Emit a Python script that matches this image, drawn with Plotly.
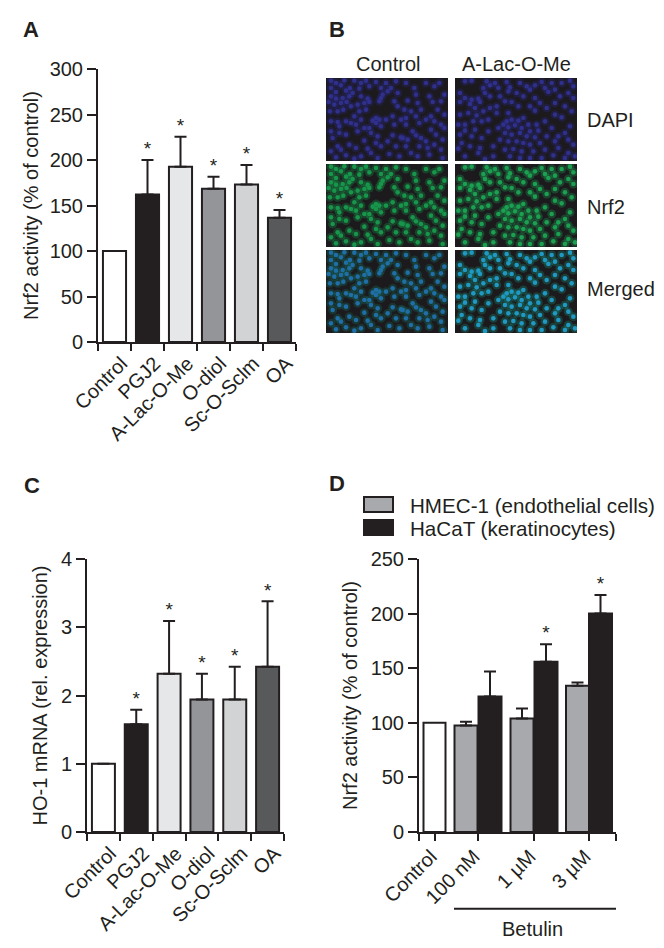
import plotly.graph_objects as go

# ---- data ----
cats = ["Control", "PGJ2", "A-Lac-O-Me", "O-diol", "Sc-O-Sclm", "OA"]
a_values = [100, 162, 192.5, 168.5, 173, 136.5]
a_sd = [0, 38, 33, 13, 21.5, 8.5]
a_star = [False, True, True, True, True, True]
c_values = [1.0, 1.58, 2.32, 1.94, 1.94, 2.42]
c_sd = [0, 0.21, 0.77, 0.38, 0.48, 0.96]
bar_colors = ["#ffffff", "#231f20", "#e6e7e8", "#939598", "#d1d3d4", "#58595b"]

d_doses = ["100 nM", "1 µM", "3 µM"]
d_control = [100]
d_hmec = [97.5, 104, 134]
d_hmec_sd = [3.5, 9, 3]
d_hacat = [124, 156, 200]
d_hacat_sd = [23, 16, 17]
d_star = [False, True, True]

nuclei_control = [
    (15, 8), (30, 15), (55, 7), (45, 22), (15, 30), (30, 42), (60, 38), (72, 30), (80, 45), (70, 55), (50, 60),
    (30, 62), (15, 55), (8, 72), (25, 80), (45, 75), (62, 72), (75, 85), (52, 95), (35, 100), (12, 100), (85, 8),
    (105, 15), (120, 8), (130, 25), (100, 32), (105, 55), (125, 62), (115, 75), (130, 72), (95, 80), (100, 100),
    (120, 95), (165, 60), (160, 70), (170, 50), (150, 12), (180, 15), (165, 30), (195, 30), (210, 10), (240, 15),
    (215, 45), (185, 40), (205, 70), (215, 85), (245, 68), (235, 95), (265, 30), (270, 50), (275, 75), (255, 100),
    (285, 95), (300, 15), (325, 25), (355, 50), (340, 15), (310, 55), (320, 72), (345, 70), (335, 95), (355, 110),
    (315, 115), (150, 120), (140, 128), (160, 125), (150, 135), (130, 150), (165, 145), (180, 125), (15, 130),
    (35, 132), (40, 145), (60, 130), (75, 135), (90, 140), (105, 125), (85, 115), (115, 150), (200, 115), (225, 125),
    (240, 120), (205, 140), (240, 140), (270, 115), (280, 135), (300, 125), (325, 130), (345, 140), (315, 155),
    (355, 150), (260, 160), (15, 160), (40, 165), (60, 170), (95, 160), (135, 165), (155, 175), (200, 172), (230, 180),
    (245, 185), (225, 178), (270, 172), (285, 180), (300, 190), (330, 170), (350, 185), (20, 180), (115, 188),
    (150, 195), (185, 190), (35, 205), (70, 200), (90, 210), (125, 212), (165, 205), (210, 205), (240, 205), (280, 205),
    (305, 210), (325, 200), (345, 215), (15, 220), (45, 215), (60, 232), (30, 238), (105, 235), (135, 225), (155, 240),
    (190, 228), (220, 235), (255, 225), (275, 235), (310, 230), (350, 240), (85, 242),
]
nuclei_treated = [
    (30, 10), (50, 8), (95, 10), (105, 22), (120, 15), (155, 12), (165, 28), (195, 15), (225, 35), (215, 25), (240, 22),
    (260, 12), (270, 30), (280, 42), (290, 15), (345, 8), (355, 25), (320, 15), (15, 45), (30, 60), (50, 65), (70, 62),
    (75, 72), (45, 78), (15, 72), (85, 30), (90, 45), (130, 30), (135, 55), (105, 55), (160, 40), (185, 45), (205, 55),
    (240, 60), (255, 75), (300, 35), (315, 55), (340, 45), (355, 60), (170, 72), (150, 70), (125, 85), (105, 90),
    (125, 105), (85, 100), (60, 90), (40, 105), (65, 112), (15, 110), (190, 85), (225, 85), (240, 98), (275, 90),
    (300, 75), (330, 85), (350, 100), (300, 110), (320, 118), (160, 105), (205, 120), (190, 128), (170, 125), (155, 130),
    (145, 140), (10, 140), (30, 140), (55, 130), (80, 130), (60, 155), (30, 158), (100, 125), (130, 150), (160, 148),
    (180, 142), (200, 150), (220, 140), (245, 140), (225, 160), (250, 158), (150, 165), (170, 170), (195, 165), (215, 175),
    (270, 130), (290, 150), (345, 145), (330, 165), (310, 175), (275, 175), (240, 178), (15, 170), (50, 175), (80, 180),
    (100, 160), (135, 185), (160, 190), (185, 190), (205, 195), (225, 200), (255, 195), (300, 190), (340, 185), (355, 200),
    (20, 195), (10, 212), (45, 205), (75, 210), (115, 205), (150, 215), (175, 213), (200, 220), (235, 220), (270, 215),
    (310, 210), (340, 225), (30, 235), (70, 225), (115, 235), (165, 235), (195, 240), (225, 240), (260, 240), (295, 232),
    (330, 240), (360, 235), (90, 243),
]

# ---- layout helpers (pixel geometry of the page) ----
W, H = 664, 948
FONT = "Liberation Sans, Arial, sans-serif"
INK = "#231f20"
TICK = 20


def dx(a, b):
    return [a / W, b / W]


def dy(top, bottom):
    return [1 - bottom / H, 1 - top / H]


def ann(text, x, y, size=TICK, xanchor="center"):
    return dict(text=text, x=x / W, y=1 - y / H, xref="paper", yref="paper", xanchor=xanchor, yanchor="middle",
                showarrow=False, font=dict(size=size, color=INK, family=FONT))


fig = go.Figure()


def y_axis(title, top, bottom, rng, dtick, standoff, anchor):
    return dict(domain=dy(top, bottom), range=rng, dtick=dtick, anchor=anchor, automargin=False,
                showgrid=False, zeroline=False, showline=True, linecolor=INK, linewidth=2,
                ticks="outside", ticklen=9, tickwidth=2, tickcolor=INK,
                tickfont=dict(size=TICK, color=INK, family=FONT),
                title=dict(text=title, standoff=standoff, font=dict(size=TICK, color=INK, family=FONT)))


def x_common(shift, standoff=0):
    return dict(showgrid=False, zeroline=False, showline=True, linecolor=INK, linewidth=2, automargin=False,
                ticks="outside", ticklen=7, tickwidth=2, tickcolor=INK, tickangle=-45,
                tickfont=dict(size=TICK, color=INK, family=FONT), ticklabelshift=shift, ticklabelstandoff=standoff)


def err(sd):
    return dict(type="data", array=sd, arrayminus=[0] * len(sd), symmetric=False,
                color=INK, thickness=2, width=6)


def stars(fig, x, tops, xa, ya):
    fig.add_trace(go.Scatter(x=x, y=tops, mode="text", text=["*"] * len(x),
                             textposition="top center",
                             textfont=dict(size=19, color=INK, family=FONT),
                             xaxis=xa, yaxis=ya, showlegend=False, hoverinfo="skip"))


# panel A
fig.add_trace(go.Bar(x=cats, y=a_values, marker=dict(color=bar_colors, line=dict(color=INK, width=2)),
                     error_y=err(a_sd), xaxis="x", yaxis="y", showlegend=False, hoverinfo="skip"))
stars(fig, [c for c, s in zip(cats, a_star) if s],
      [v + e for v, e, s in zip(a_values, a_sd, a_star) if s], "x", "y")

# panel C
fig.add_trace(go.Bar(x=cats, y=c_values, marker=dict(color=bar_colors, line=dict(color=INK, width=2)),
                     error_y=err(c_sd), xaxis="x2", yaxis="y2", showlegend=False, hoverinfo="skip"))
stars(fig, [c for c, s in zip(cats, a_star) if s],
      [v + e for v, e, s in zip(c_values, c_sd, a_star) if s], "x2", "y2")

# panel D  (x unit = one pixel from the y axis)
D_CONTROL_X = [15.5]
D_HMEC_X = [47, 103, 158.5]
D_HACAT_X = [71, 127, 181.5]
D_TICKS = [0, 16, 59, 115, 170, 197]
fig.add_trace(go.Bar(x=D_CONTROL_X, y=d_control, width=22,
                     marker=dict(color="#ffffff", line=dict(color=INK, width=2)),
                     xaxis="x3", yaxis="y3", showlegend=False, hoverinfo="skip"))
fig.add_trace(go.Bar(x=D_HMEC_X, y=d_hmec, width=23,
                     marker=dict(color="#a7a9ac", line=dict(color=INK, width=2)),
                     error_y=err(d_hmec_sd), xaxis="x3", yaxis="y3", name="HMEC-1 (endothelial cells)",
                     showlegend=False, hoverinfo="skip"))
fig.add_trace(go.Bar(x=D_HACAT_X, y=d_hacat, width=23,
                     marker=dict(color=INK, line=dict(color=INK, width=2)),
                     error_y=err(d_hacat_sd), xaxis="x3", yaxis="y3", name="HaCaT (keratinocytes)",
                     showlegend=False, hoverinfo="skip"))
stars(fig, [x for x, s in zip(D_HACAT_X, d_star) if s],
      [v + e for v, e, s in zip(d_hacat, d_hacat_sd, d_star) if s], "x3", "y3")

# panel B micrographs
BG = "#1c1a1c"
columns = [(326, 448, nuclei_control), (455, 577, nuclei_treated)]
rows_px = [(78, 161), (164, 247), (250, 333)]
core_colors = [["#2f2f8c", "#17954a", "#1f6ea6"], ["#2f2f8c", "#1b9f50", "#2098c4"]]
glow_colors = [["#2c2c90", "#14a050", "#147a6a"], ["#2c2c90", "#18b058", "#14a08a"]]
axis_id = 4
img_axes = {}
for c, (x0, x1, points) in enumerate(columns):
    xs = [p[0] for p in points]
    ys = [p[1] for p in points]
    for r, (top, bottom) in enumerate(rows_px):
        for size, color, opacity in [(9, glow_colors[c][r], 0.28), (4.6, core_colors[c][r], 1)]:
            fig.add_trace(go.Scatter(x=xs, y=ys, mode="markers",
                                     marker=dict(size=size, color=color, opacity=opacity, line=dict(width=0)),
                                     xaxis=f"x{axis_id}", yaxis=f"y{axis_id}", showlegend=False, hoverinfo="skip"))
        img_axes[f"xaxis{axis_id}"] = dict(domain=dx(x0, x1), range=[0, 366], visible=False,
                                           anchor=f"y{axis_id}", automargin=False)
        img_axes[f"yaxis{axis_id}"] = dict(domain=dy(top, bottom), range=[249, 0], visible=False,
                                           anchor=f"x{axis_id}", automargin=False)
        axis_id += 1

shapes = []
for x0, x1, _ in columns:
    for top, bottom in rows_px:
        shapes.append(dict(type="rect", xref="paper", yref="paper", x0=x0 / W, x1=x1 / W,
                           y0=1 - bottom / H, y1=1 - top / H, fillcolor=BG, line_width=0, layer="below"))
# legend swatches and Betulin rule of panel D
shapes.append(dict(type="rect", xref="paper", yref="paper", x0=364 / W, x1=393 / W, y0=1 - 512 / H, y1=1 - 497 / H,
                   fillcolor="#a7a9ac", line=dict(color=INK, width=2)))
shapes.append(dict(type="rect", xref="paper", yref="paper", x0=363 / W, x1=394 / W, y0=1 - 536 / H, y1=1 - 519 / H,
                   fillcolor=INK, line_width=0))
shapes.append(dict(type="line", xref="paper", yref="paper", x0=454 / W, x1=616 / W, y0=1 - 908.7 / H, y1=1 - 908.7 / H,
                   line=dict(color=INK, width=2)))

annotations = [
    ann("<b>A</b>", 31, 30, size=22),
    ann("<b>B</b>", 337, 30, size=22),
    ann("<b>C</b>", 32, 485, size=22),
    ann("<b>D</b>", 337, 483, size=22),
    ann("Control", 388, 64),
    ann("A-Lac-O-Me", 516, 64),
    ann("DAPI", 585, 120, xanchor="left"),
    ann("Nrf2", 585, 207, xanchor="left"),
    ann("Merged", 585, 289, xanchor="left"),
    ann("HMEC-1 (endothelial cells)", 408, 505, size=20.6, xanchor="left"),
    ann("HaCaT (keratinocytes)", 408, 528, size=20.6, xanchor="left"),
    ann("Betulin", 532, 929),
]

fig.update_layout(
    width=W, height=H, margin=dict(l=0, r=0, t=0, b=0), paper_bgcolor="white", plot_bgcolor="rgba(0,0,0,0)",
    barmode="overlay", bargap=0.30, shapes=shapes, annotations=annotations,
    font=dict(family=FONT, color=INK),
    xaxis=dict(domain=dx(98, 296), anchor="y", categoryorder="array", categoryarray=cats,
               range=[-0.5, 5.5], tickson="boundaries", **x_common(7)),
    yaxis=y_axis("Nrf2 activity (% of control)", 69, 342, [0, 300], 50, 6, "x"),
    xaxis2=dict(domain=dx(87, 284), anchor="y2", categoryorder="array", categoryarray=cats,
                range=[-0.5, 5.5], tickson="boundaries", **x_common(7)),
    yaxis2=y_axis("HO-1 mRNA (rel. expression)", 559, 832, [0, 4], 1, 8, "x2"),
    xaxis3=dict(domain=dx(419, 616), anchor="y3", range=[0, 197], tickmode="array", tickvals=D_TICKS,
                ticktext=["", "Control"] + d_doses + [""], **x_common(-4, -4)),
    yaxis3=y_axis("Nrf2 activity (% of control)", 559, 832, [0, 250], 50, 8, "x3"),
    **img_axes,
)

fig.write_html("out.html", config={"displayModeBar": False},
               post_script="document.body.style.margin='0';document.body.style.overflow='hidden';")
